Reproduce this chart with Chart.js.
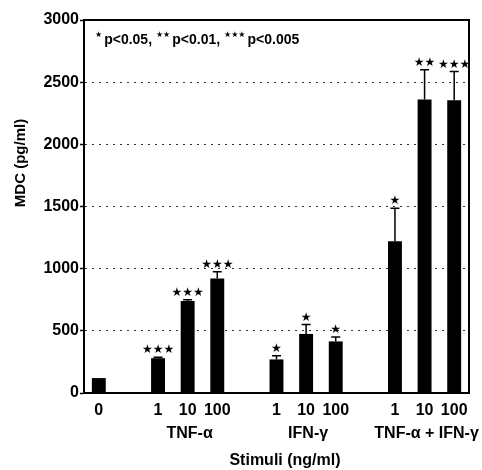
<!DOCTYPE html>
<html>
<head>
<meta charset="utf-8">
<script src="https://cdn.jsdelivr.net/npm/chart.js@4"></script>
<style>
  html, body { margin: 0; padding: 0; background: #fff; }
  #wrap { width: 482px; height: 470px; }
</style>
</head>
<body>
<div id="wrap"><canvas id="barchart" width="482" height="470"></canvas></div>
<script>
// doses on the x axis, empty slots separate the groups
let doses = ['0', '', '1', '10', '100', '', '1', '10', '100', '', '1', '10', '100'];
// MDC (pg/ml)
let mdc = [120, null, 280, 740, 920, null, 270, 475, 415, null, 1220, 2360, 2355];
let errs = [0, null, 8, 10, 55, null, 30, 75, 35, null, 265, 240, 230];
let sig = ['', '', '***', '***', '***', '', '*', '*', '*', '', '*', '**', '***'];
// group names and the slot they sit under
let groupNames = ['TNF-\u03b1', 'IFN-\u03b3', 'TNF-\u03b1 + IFN-\u03b3'];
let groupSlots = [3, 7, 11];
let yTicks = [0, 500, 1000, 1500, 2000, 2500, 3000];
let note = [['*', 'p<0.05, '], ['**', 'p<0.01, '], ['***', 'p<0.005']];

const FONT = '"Liberation Sans", Arial, sans-serif';

const overlay = {
  id: 'overlay',
  afterDatasetsDraw(chart) {
    const ctx = chart.ctx;
    const a = chart.chartArea;
    const x = chart.scales.x, y = chart.scales.y;
    ctx.save();
    ctx.strokeStyle = '#000';
    ctx.lineWidth = 2;
    ctx.beginPath();
    ctx.moveTo(a.left, a.top);
    ctx.lineTo(a.right, a.top);
    ctx.lineTo(a.right, a.bottom);
    ctx.stroke();

    // error bars (upper only) and significance stars
    for (let i = 0; i < mdc.length; i++) {
      if (mdc[i] == null) continue;
      let px = x.getPixelForValue(i);
      let top = y.getPixelForValue(mdc[i] + errs[i]);
      if (errs[i] > 0) {
        let base = y.getPixelForValue(mdc[i]);
        ctx.lineWidth = 1.5;
        ctx.beginPath();
        ctx.moveTo(px, base);
        ctx.lineTo(px, top);
        ctx.moveTo(px - 4.5, top);
        ctx.lineTo(px + 4.5, top);
        ctx.stroke();
      }
      if (sig[i]) {
        ctx.fillStyle = '#000';
        ctx.font = '12px "DejaVu Sans"';
        ctx.textAlign = 'center';
        ctx.textBaseline = 'alphabetic';
        ctx.fillText(sig[i].replace(/\*/g, '\u2605'), px, top - 4);
      }
    }

    // p-value note
    let nx = a.left + 11;
    ctx.textAlign = 'left';
    ctx.textBaseline = 'alphabetic';
    note.forEach(function(part) {
      ctx.font = '8px "DejaVu Sans"';
      let s = part[0].replace(/\*/g, '\u2605');
      ctx.fillText(s, nx, 37);
      nx += ctx.measureText(s).width + 2;
      ctx.font = 'bold 14px ' + FONT;
      ctx.fillText(part[1], nx, 44);
      nx += ctx.measureText(part[1]).width;
    });

    // group labels and axis titles
    ctx.font = 'bold 16px ' + FONT;
    ctx.textAlign = 'center';
    ctx.textBaseline = 'middle';
    groupNames.forEach(function(g, k) {
      ctx.fillText(g, x.getPixelForValue(groupSlots[k]) + 2, 434);
    });
    ctx.fillText('Stimuli (ng/ml)', 285, 461);

    ctx.translate(21, 163);
    ctx.rotate(-Math.PI / 2);
    ctx.font = 'bold 15px ' + FONT;
    ctx.fillText('MDC (pg/ml)', 0, 0);
    ctx.restore();
  }
};

new Chart(document.getElementById('barchart'), {
  type: 'bar',
  data: {
    labels: doses,
    datasets: [{
      data: mdc,
      backgroundColor: '#000',
      borderWidth: 0,
      barPercentage: 0.47,
      categoryPercentage: 1
    }]
  },
  options: {
    responsive: false,
    animation: false,
    layout: { padding: { top: 20, right: 13, left: 0, bottom: 0 } },
    plugins: { legend: { display: false }, tooltip: { enabled: false } },
    scales: {
      x: {
        afterFit: function(s) { s.height = 77; },
        grid: { display: false },
        border: { display: true, color: '#000', width: 2 },
        ticks: { color: '#000', padding: 0, autoSkip: false, maxRotation: 0,
                 font: { family: FONT, size: 16, weight: 'bold' } }
      },
      y: {
        min: 0,
        max: 3000,
        afterFit: function(s) { s.width = 84; },
        afterBuildTicks: function(s) { s.ticks = yTicks.map(v => ({ value: v })); },
        grid: {
          color: c => (c.tick && (c.tick.value === 0 || c.tick.value === 3000)) ? 'rgba(0,0,0,0)' : '#333',
          lineWidth: 1,
          tickColor: '#000',
          tickLength: 4,
          tickWidth: 1.5
        },
        border: { display: true, color: '#000', width: 2, dash: [2, 5] },
        ticks: { color: '#000', padding: 1, callback: v => String(v),
                 font: { family: FONT, size: 16, weight: 'bold' } }
      }
    }
  },
  plugins: [overlay]
});
</script>
</body>
</html>
